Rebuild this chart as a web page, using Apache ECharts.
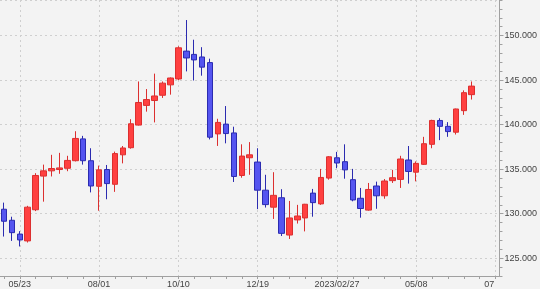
<!DOCTYPE html>
<html>
<head>
<meta charset="utf-8">
<script src="https://cdn.jsdelivr.net/npm/echarts@6/dist/echarts.min.js"></script>
<style>
html,body{margin:0;padding:0;background:#f3f3f3;}
#chart{width:540px;height:289px;}
</style>
</head>
<body>
<div id="chart"></div>
<script>
const dates = [
 '2022/05/09','2022/05/16','2022/05/23','2022/05/30','2022/06/06','2022/06/13','2022/06/20','2022/06/27',
 '2022/07/04','2022/07/11','2022/07/18','2022/07/25','2022/08/01','2022/08/08','2022/08/15','2022/08/22',
 '2022/08/29','2022/09/05','2022/09/12','2022/09/19','2022/09/26','2022/10/03','2022/10/10','2022/10/17',
 '2022/10/24','2022/10/31','2022/11/07','2022/11/14','2022/11/21','2022/11/28','2022/12/05','2022/12/12',
 '2022/12/19','2022/12/26','2023/01/02','2023/01/09','2023/01/16','2023/01/23','2023/01/30','2023/02/06',
 '2023/02/13','2023/02/20','2023/02/27','2023/03/06','2023/03/13','2023/03/20','2023/03/27','2023/04/03',
 '2023/04/10','2023/04/17','2023/04/24','2023/05/01','2023/05/08','2023/05/15','2023/05/22','2023/05/29',
 '2023/06/05','2023/06/12','2023/06/19','2023/06/26','2023/07/03','2023/07/10','2023/07/17'
];
const opens = [130.50,129.26,127.71,126.94,130.44,134.22,134.81,134.96,135.10,135.95,
 138.40,135.95,133.08,134.96,133.30,136.61,137.41,139.95,142.16,142.71,
 143.30,144.47,145.13,148.26,147.89,147.60,146.97,138.96,140.06,139.07,
 134.29,136.28,135.80,132.64,130.73,131.79,127.60,129.30,129.52,132.31,
 131.10,134.00,136.28,135.84,133.82,131.73,130.40,133.11,132.01,133.71,
 133.85,136.03,134.66,135.54,137.79,140.47,139.81,139.15,141.57,143.37];
const closes = [129.15,127.87,127.05,130.73,134.29,134.81,135.07,135.14,135.98,138.45,
 135.95,133.11,134.92,133.38,136.75,137.38,140.10,142.49,142.82,143.22,
 144.66,145.24,148.63,147.49,147.27,146.46,138.59,140.25,139.00,134.18,
 136.47,136.61,132.64,131.02,132.06,127.79,129.52,129.74,131.06,131.24,
 134.07,136.39,135.69,134.92,131.54,130.58,132.72,132.01,133.67,134.04,
 136.14,134.74,135.65,137.86,140.47,139.81,139.22,141.76,143.59,144.33];
const lows = [127.43,126.94,126.32,126.76,130.29,131.35,134.18,134.48,134.77,135.87,
 135.51,132.39,130.33,131.62,132.45,135.65,137.30,139.90,141.46,140.25,
 143.00,143.37,145.00,145.98,144.96,145.50,138.34,137.61,137.90,133.56,
 134.04,134.37,130.51,130.69,129.41,127.49,127.16,128.89,128.01,129.66,
 130.99,133.82,135.10,133.93,131.39,129.55,130.33,130.55,131.68,133.45,
 132.89,133.38,133.63,135.47,137.35,138.26,138.63,138.89,141.10,142.82];
const highs = [131.24,129.66,128.04,130.88,134.55,135.51,136.61,136.83,136.50,139.26,
 138.74,137.35,135.40,135.47,136.97,137.60,140.61,144.85,144.00,145.73,
 144.85,145.30,148.80,151.75,149.54,148.70,147.41,140.66,142.09,139.77,
 137.79,138.04,137.35,134.37,134.66,132.75,131.43,130.99,131.10,132.78,
 135.03,136.47,136.94,137.79,135.03,132.89,133.45,133.60,133.89,134.92,
 136.50,137.60,135.87,138.63,140.55,140.72,140.28,141.80,143.85,144.85];

const ohlc = opens.map((o, i) => [o, closes[i], lows[i], highs[i]]);

const chart = echarts.init(document.getElementById('chart'), null, {renderer: 'canvas'});
const font = 'Liberation Sans';
chart.setOption({
  animation: false,
  backgroundColor: '#f3f3f3',
  grid: {left: 0, right: 36, top: -2.4, bottom: 11.65, containLabel: false},
  xAxis: {
    type: 'category',
    data: dates,
    boundaryGap: true,
    axisLine: {show: true, onZero: false, lineStyle: {color: '#a0a0a0', width: 1}},
    axisTick: {show: true, alignWithLabel: true, length: 3, interval: (i) => i % 2 === 0, lineStyle: {color: '#a0a0a0'}},
    axisLabel: {
      interval: (i) => i % 10 === 2,
      margin: 4, fontSize: 9, fontFamily: font, color: '#444',
      formatter: (v, i) => {
        const prev = i - 10 >= 0 ? dates[i - 10] : null;
        if (prev && prev.slice(0, 4) !== v.slice(0, 4)) return v;
        return v.slice(5);
      }
    },
    splitLine: {show: true, alignWithLabel: true, interval: (i) => i % 10 === 2,
      lineStyle: {color: '#cfcfcf', type: [2, 3], width: 1}}
  },
  yAxis: [{
    type: 'value',
    position: 'right',
    min: 123, max: 154,
    splitNumber: 6,
    scale: true,
    axisLine: {show: true, lineStyle: {color: '#a0a0a0'}},
    axisTick: {show: true, length: 4, lineStyle: {color: '#a0a0a0'}},
    axisLabel: {showMinLabel: false, showMaxLabel: false, margin: 5, fontSize: 9, fontFamily: font, color: '#444',
      formatter: (v) => v.toFixed(3)},
    splitLine: {show: true, lineStyle: {color: '#cfcfcf', type: [2, 3], width: 1}}
  }, {
    type: 'value',
    position: 'right',
    min: 123, max: 154, interval: 1,
    axisLine: {show: false},
    axisTick: {show: true, length: 3, lineStyle: {color: '#a0a0a0'}},
    axisLabel: {show: false},
    splitLine: {show: false}
  }],
  series: [{
    type: 'candlestick',
    yAxisIndex: 0,
    data: ohlc,
    barWidth: 6,
    itemStyle: {
      color: '#ff4040', color0: '#5555f0',
      borderColor: '#dc2f2f', borderColor0: '#2b2bb0', borderWidth: 1
    }
  }],
  graphic: [{
    type: 'rect', z: 100, silent: true,
    shape: {x: 494, y: 279, width: 46, height: 10},
    style: {fill: '#f3f3f3'}
  }]
});
</script>
</body>
</html>
